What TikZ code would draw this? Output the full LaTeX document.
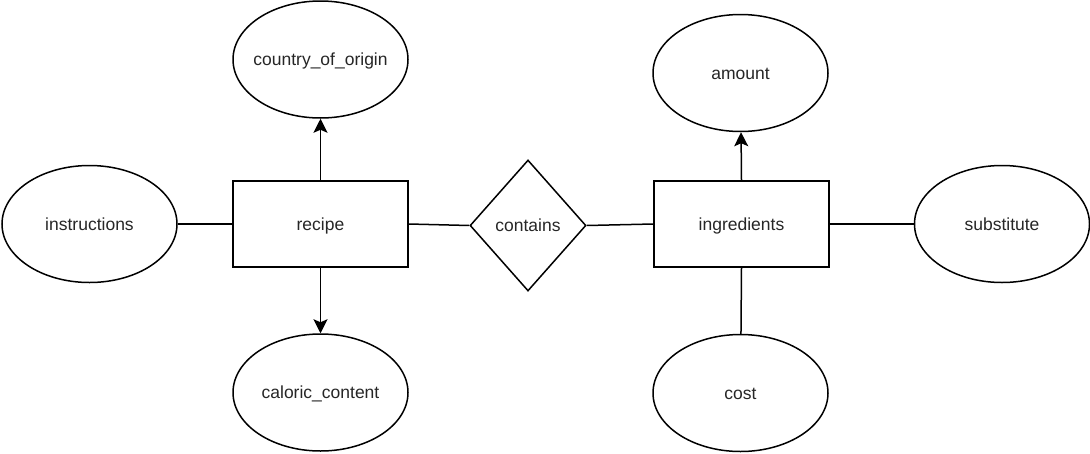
\documentclass[tikz,border=0pt]{standalone}
\usepackage{fontspec}
\setmainfont{Liberation Sans}
\usetikzlibrary{shapes.geometric,arrows.meta}
\begin{document}
\begin{tikzpicture}[x=1pt,y=-1pt,
  base/.style={draw=black, line width=1.5pt, inner sep=0pt, text=black!85, font=\fontsize{17.5}{21}\selectfont, text height=15.5pt, text depth=3.5pt, text width=0pt, align=center},
  attr/.style={base, ellipse, minimum width=175pt, minimum height=117pt},
  entity/.style={base, rectangle, minimum width=175pt, minimum height=86pt},
  rel/.style={base, diamond, minimum width=116pt, minimum height=131pt},
  conn/.style={line width=1.5pt, draw=black},
  arr/.style={conn, -{Stealth[length=14pt,width=14pt,inset=3pt]}}]
\useasboundingbox (0,0) rectangle (1090,453);
\node[attr] (country) at (320.5,59.5) {\makebox[0pt]{country\_of\_origin}};
\node[attr] (instr) at (89.5,224) {\makebox[0pt]{instructions}};
\node[attr] (caloric) at (320.5,392.5) {\makebox[0pt]{caloric\_content}};
\node[attr] (amount) at (740.5,73) {\makebox[0pt]{amount}};
\node[attr] (subst) at (1002,224) {\makebox[0pt]{substitute}};
\node[attr] (cost) at (740.5,393) {\makebox[0pt]{cost}};
\node[entity] (recipe) at (320.5,224) {\makebox[0pt]{recipe}};
\node[entity] (ingr) at (741.5,224) {\makebox[0pt]{ingredients}};
\node[rel] (contains) at (528,225.5) {\makebox[0pt]{contains}};
\draw[arr] (recipe.north) -- (country);
\draw[arr] (recipe.south) -- (caloric);
\draw[arr] (ingr.north) -- (amount);
\draw[conn] (ingr.south) -- (cost);
\draw[conn] (instr.east) -- (recipe.west);
\draw[conn] (recipe.east) -- (contains.west);
\draw[conn] (contains.east) -- (ingr.west);
\draw[conn] (ingr.east) -- (subst.west);
\end{tikzpicture}
\end{document}
